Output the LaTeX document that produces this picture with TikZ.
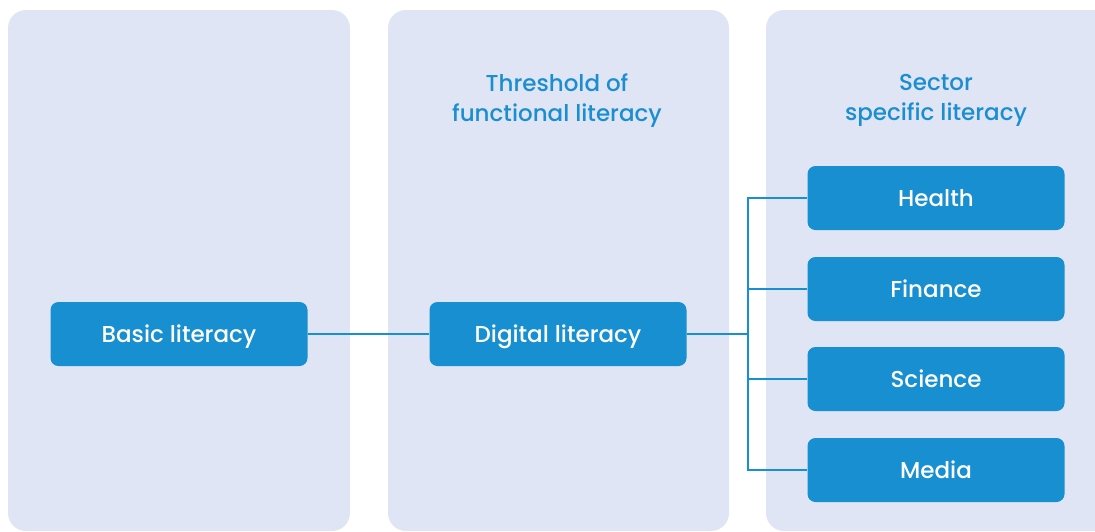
\documentclass[tikz,border=0pt]{standalone}
\usepackage{fontspec}
\setmainfont{Poppins}[UprightFont=* Medium]
\usetikzlibrary{positioning}
\definecolor{panelbg}{HTML}{DFE5F4}
\definecolor{boxblue}{HTML}{178FD0}
\definecolor{titleblue}{HTML}{1A8ED0}
\tikzset{
  panel/.style={fill=panelbg, rounded corners=18pt},
  litbox/.style={fill=boxblue, rounded corners=8pt, minimum width=257pt, minimum height=64pt, inner sep=0pt, text height=16pt, text depth=0pt, text=white, font=\fontsize{23}{28}\selectfont},
  paneltitle/.style={text=titleblue, align=center, font=\fontsize{23}{30}\selectfont},
  link/.style={draw=boxblue, line width=2pt}
}
\begin{document}
\begin{tikzpicture}[x=1pt,y=-1pt]
\useasboundingbox (0,0) rectangle (1095,531);
\fill[panel] (8,10) rectangle (350,531);
\fill[panel] (388,10) rectangle (729,531);
\fill[panel] (766,10) rectangle (1120,531);
\node[paneltitle] (threshold) at (557,101) {Threshold of\\functional literacy};
\node[paneltitle] (sector) at (936,100) {Sector\\specific literacy};
\node[litbox] (basic) at (179,334) {Basic literacy};
\node[litbox] (digital) at (558,334) {Digital literacy};
\node[litbox] (health) at (936,198) {Health};
\node[litbox] (finance) at (936,289) {Finance};
\node[litbox] (science) at (936,379) {Science};
\node[litbox] (media) at (936,470) {Media};
\draw[link] (basic) -- (digital);
\draw[link] (digital.east) -- ++(61,0) coordinate (fork);
\draw[link] (health.west) -| (fork) |- (media.west);
\draw[link] (finance.west) -- (finance.west -| fork);
\draw[link] (science.west) -- (science.west -| fork);
\end{tikzpicture}
\end{document}
